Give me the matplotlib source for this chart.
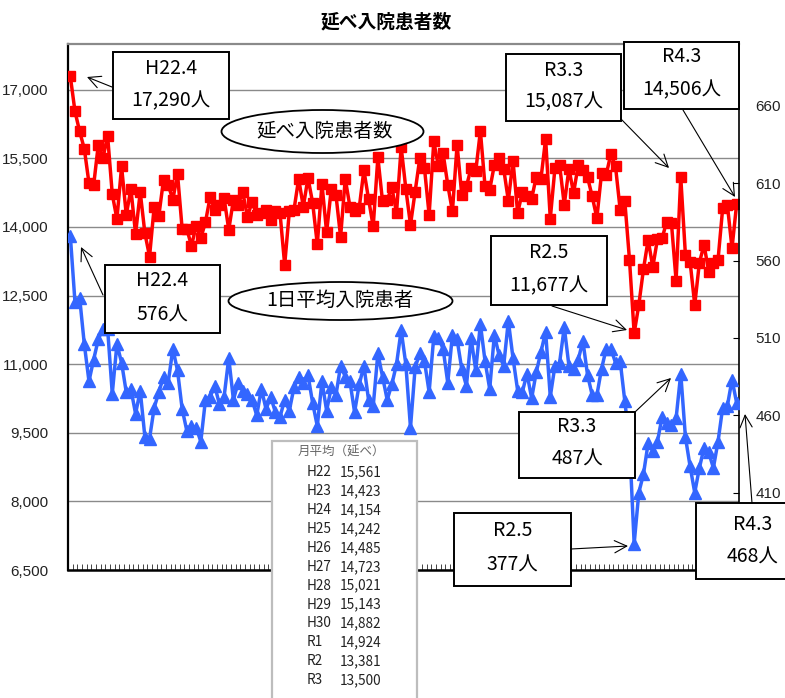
import matplotlib
matplotlib.use('Agg')
import matplotlib.pyplot as plt
from matplotlib.patches import Rectangle, Ellipse
from matplotlib.ticker import FuncFormatter
import numpy as np

plt.rcParams['font.family'] = ['Noto Sans CJK JP', 'DejaVu Sans']

# ---------------- data ----------------
# monthly, H22.4 (Apr 2010) ... R4.3 (Mar 2022)
eras = ['H22', 'H23', 'H24', 'H25', 'H26', 'H27', 'H28', 'H29', 'H30', 'R1', 'R2', 'R3']
month_nums = [4, 5, 6, 7, 8, 9, 10, 11, 12, 1, 2, 3]
months = [f'{e}.{m}' for e in eras for m in month_nums]

total_patients = [  # 延べ入院患者数 (left axis)
    17290, 16525, 16088, 15709, 14959, 14907, 15797, 15506, 15994, 14718, 14172, 15322,
    14266, 14828, 13850, 14762, 13865, 13353, 14447, 14250, 15031, 14922, 14594, 15163,
    13953, 13953, 13588, 14025, 13756, 14106, 14653, 14375, 14484, 14631, 13938, 14594,
    14484, 14762, 14228, 14543, 14266, 14316, 14375, 14156, 14338, 14303, 13172, 14338,
    14375, 15053, 14441, 15075, 14528, 13620, 14944, 13883, 14834, 14703, 13784, 15053,
    14447, 14338, 14419, 15243, 14609, 14010, 15523, 14557, 14594, 14867, 14309, 15746,
    14834, 14047, 14775, 15506, 15287, 14266, 15869, 15322, 15607, 14922, 14338, 15797,
    14703, 14885, 15287, 15213, 16099, 14885, 14813, 15359, 15506, 15272, 14576, 15451,
    14303, 14758, 14681, 14616, 15103, 15053, 15928, 14183, 15287, 15359, 14484, 15276,
    14740, 15359, 15250, 15086, 14666, 14193, 15178, 15141, 15596, 15322, 14375, 14557,
    13281, 11677, 12297, 13078, 13719, 13122, 13734, 13756, 14119, 14084, 12828, 15087,
    13391, 13244, 12297, 13222, 13609, 13025, 13209, 13281, 14412, 14484, 13537, 14506]

daily_avg = [  # 1日平均入院患者 (right axis)
    576, 533, 536, 506, 482, 496, 509, 516, 516, 474, 506, 494,
    475, 477, 461, 476, 446, 445, 465, 475, 485, 481, 503, 489,
    464, 450, 453, 452, 443, 470, 472, 479, 467, 472, 497, 470,
    481, 476, 474, 470, 460, 477, 464, 472, 462, 459, 470, 463,
    478, 485, 481, 486, 468, 453, 482, 463, 478, 473, 492, 485,
    482, 462, 480, 492, 470, 466, 500, 485, 470, 480, 493, 515,
    493, 452, 491, 500, 495, 475, 511, 510, 503, 481, 512, 509,
    490, 479, 510, 489, 519, 495, 477, 512, 499, 492, 521, 497,
    476, 475, 487, 471, 488, 501, 514, 472, 492, 494, 517, 492,
    490, 496, 508, 486, 473, 473, 490, 503, 503, 494, 495, 469,
    443, 377, 410, 422, 442, 437, 443, 459, 455, 454, 458, 487,
    446, 427, 410, 426, 439, 436, 426, 443, 465, 466, 483, 468]

left_ticks = [6500, 8000, 9500, 11000, 12500, 14000, 15500, 17000]
right_ticks = [410, 460, 510, 560, 610, 660]

annual_labels = ['H22', 'H23', 'H24', 'H25', 'H26', 'H27', 'H28', 'H29', 'H30', 'R1', 'R2', 'R3']
annual_avgs = [15561, 14423, 14154, 14242, 14485, 14723, 15021, 15143, 14882, 14924, 13381, 13500]

# ---------------- figure ----------------
W, H = 785, 698
fig = plt.figure(figsize=(W / 100, H / 100), dpi=100)
L, R, T, B = 68, 739, 44, 570
ax = fig.add_axes([L / W, 1 - B / H, (R - L) / W, (B - T) / H])

x = np.arange(len(months)) + 0.5
ax.plot(x, total_patients, color='#ff0000', lw=2.5, marker='s', ms=6.8, zorder=3)
ax.set_xlim(0, len(months))
ax.set_ylim(6500, 18000)
ax.set_yticks(left_ticks)
ax.yaxis.set_major_formatter(FuncFormatter(lambda v, p: f'{v:,.0f}'))
ax.yaxis.grid(True, color='#8a8a8a', lw=1.0)
ax.set_axisbelow(True)
ax.tick_params(axis='y', length=0, pad=14, labelsize=11, labelcolor='#222222')
for lab in ax.get_yticklabels():
    lab.set_fontfamily('Liberation Sans')
ax.set_xticks(np.arange(0, len(months) + 1))
ax.tick_params(axis='x', direction='in', length=4, width=0.7, color='#444444', labelbottom=False)
ax.spines['top'].set_color('#8a8a8a')
ax.spines['top'].set_linewidth(1.6)
ax.spines['left'].set_linewidth(1.6)
ax.spines['bottom'].set_linewidth(1.8)
ax.spines['right'].set_visible(False)

ax2 = ax.twinx()
ax2.plot(x, daily_avg, color='#3366ff', lw=2.5, marker='^', ms=8.2, zorder=3)
ax2.set_ylim(360, 700)
ax2.set_yticks(right_ticks)
ax2.tick_params(axis='y', direction='in', length=4, width=0.8, pad=12, labelsize=11,
                labelcolor='#222222')
for lab in ax2.get_yticklabels():
    lab.set_fontfamily('Liberation Sans')
for s in ['top', 'left', 'bottom']:
    ax2.spines[s].set_visible(False)
ax2.spines['right'].set_linewidth(1.2)

# title
fig.text(386 / W, 1 - 22 / H, '延べ入院患者数', ha='center', va='center',
         fontsize=13.5, fontweight='bold')

# ---------------- annotation layer (pixel coordinates) ----------------
ov = fig.add_axes([0, 0, 1, 1], zorder=10)
ov.set_xlim(0, W)
ov.set_ylim(H, 0)
ov.axis('off')
ov.patch.set_alpha(0)


def box(x0, y0, x1, y1, l1, l2, y1t, y2t, cx=None):
    ov.add_patch(Rectangle((x0, y0), x1 - x0, y1 - y0, fc='white', ec='black', lw=1.4,
                           clip_on=False))
    c = (x0 + x1) / 2 if cx is None else cx
    ov.text(c, y1t, l1, ha='center', va='center', fontsize=14)
    ov.text(c, y2t, l2, ha='center', va='center', fontsize=14)


def arrow(start, tip):
    ov.annotate('', xy=tip, xytext=start,
                arrowprops=dict(arrowstyle='->', color='black', lw=0.8,
                                mutation_scale=22, shrinkA=0, shrinkB=0))


box(113, 52, 229, 119, 'H22.4', '17,290人', 68, 101)
arrow((112, 87), (87, 77))
box(105, 265, 220, 333, 'H22.4', '576人', 281, 315)
arrow((103, 295), (81, 247))
box(506, 54, 621, 121, 'R3.3', '15,087人', 70, 102)
arrow((621, 119), (669, 168))
box(624, 42, 739, 109, 'R4.3', '14,506人', 57, 90)
arrow((683, 110), (735, 197))
box(491, 236, 607, 305, 'R2.5', '11,677人', 253, 286)
arrow((552, 306), (627, 330))
box(519, 412, 635, 478, 'R3.3', '487人', 427, 459)
arrow((635, 412), (671, 378))
box(454, 513, 571, 586, 'R2.5', '377人', 531, 565)
arrow((571, 549), (628, 546))
box(696, 503, 812, 579, 'R4.3', '468人', 524, 557, cx=753)
arrow((752, 503), (745, 414))

ov.add_patch(Ellipse((322.5, 131.5), 202, 43, fc='white', ec='black', lw=1.3))
ov.text(325, 131, '延べ入院患者数', ha='center', va='center', fontsize=14)
ov.add_patch(Ellipse((340.5, 301), 224, 38, fc='white', ec='black', lw=1.3))
ov.text(340, 300, '1日平均入院患者', ha='center', va='center', fontsize=14)

# table of monthly averages
ov.add_patch(Rectangle((272, 441), 145, 270, fc='white', ec='#bdbdbd', lw=1.6, clip_on=False))
ov.text(341, 452, '月平均（延べ）', ha='center', va='center', fontsize=9, color='#666666')
for i, (lab, val) in enumerate(zip(annual_labels, annual_avgs)):
    yy = 472.5 + i * 18.87
    ov.text(307, yy, lab, ha='left', va='center', fontsize=9.8, color='#222222')
    ov.text(339.5, yy, f'{val:,}', ha='left', va='center', fontsize=9.8, color='#222222')

fig.savefig('out.png', dpi=100)
